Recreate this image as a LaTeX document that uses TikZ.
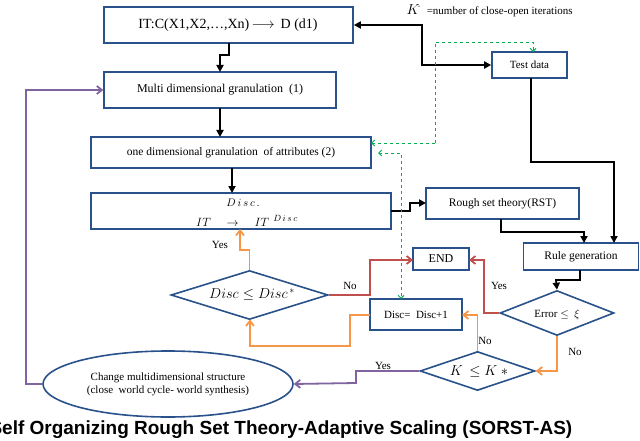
\documentclass[tikz,border=0pt]{standalone}
\usepackage{fontspec}
\setmainfont{Liberation Serif}
\newfontfamily\titlefont{Liberation Sans}
\usetikzlibrary{shapes.geometric,arrows.meta}
\definecolor{bblue}{RGB}{41,82,138}
\definecolor{orng}{RGB}{247,150,70}
\definecolor{rred}{RGB}{192,80,77}
\definecolor{purp}{RGB}{128,100,162}
\definecolor{grn}{RGB}{0,176,80}
\begin{document}
\begin{tikzpicture}[x=1pt,y=-1pt,
  box/.style={draw=bblue,line width=1.6pt,inner sep=0pt,fill=white},
  dia/.style={draw=bblue,line width=1.6pt,diamond,aspect=2.8,inner sep=0pt},
  blk/.style={line width=1.8pt,-{Triangle[length=7pt,width=7pt]}},
  org/.style={orng,line width=1.8pt,-{Straight Barb[length=5pt,width=8pt]}},
  red/.style={rred,line width=1.8pt,-{Straight Barb[length=5pt,width=8pt]}},
  pur/.style={purp,line width=1.8pt,-{Straight Barb[length=5pt,width=8pt]}},
  gd/.style={grn,line width=0.9pt,dashed,-{Straight Barb[length=3pt,width=6pt]}},
  lab/.style={font=\fontsize{11}{12}\selectfont}]
\useasboundingbox (0,0) rectangle (640,441);
% boxes
\node[box,minimum width=249pt,minimum height=36pt] (it) at (228.5,25) {};
\node[font=\fontsize{14}{15}\selectfont] (ittxt) at (228,25) {IT:C(X1,X2,\ldots,Xn)\,$\longrightarrow$\, D (d1)};
\node[box,minimum width=75pt,minimum height=26pt,font=\fontsize{11}{12}\selectfont] (test) at (529.5,65) {Test data};
\node[anchor=west,font=\fontsize{11}{12}\selectfont] (kdef) at (403,11) {{\fontsize{15}{15}\selectfont$K^{\!\cdot}$}\ \ =number of close-open iterations};
\node[box,minimum width=232pt,minimum height=36pt,font=\fontsize{12}{13}\selectfont] (multi) at (220,90) {Multi dimensional granulation\ \ (1)};
\node[box,minimum width=280pt,minimum height=31pt,font=\fontsize{11.5}{12}\selectfont] (one) at (231,152.5) {one dimensional granulation\ \ of attributes (2)};
\node[box,minimum width=300pt,minimum height=36pt] (disc) at (241,211) {};
\node[font=\fontsize{11}{12}\selectfont] (disct) at (243,203) {$D\,i\,s\,c\,.$};
\node[font=\fontsize{12.5}{13}\selectfont] (discb) at (247,221) {$IT\quad\rightarrow\quad IT^{\;\,D\,i\,s\,c}$};
\node[box,minimum width=153pt,minimum height=31pt,font=\fontsize{11.5}{12}\selectfont] (rst) at (502.5,203.5) {Rough set theory(RST)};
\node[box,minimum width=115pt,minimum height=27pt,font=\fontsize{11.5}{12}\selectfont] (rule) at (581,256.5) {Rule generation};
\node[box,minimum width=56pt,minimum height=22pt,font=\fontsize{12}{12}\selectfont] (end) at (441,259) {END};
\node[box,minimum width=92pt,minimum height=31pt,font=\fontsize{11}{12}\selectfont] (inc) at (416,314.5) {Disc=\ \ Disc+1};
\node[dia,minimum width=157pt,minimum height=49pt] (dd) at (249.5,295) {};
\node[font=\fontsize{14}{14}\selectfont] (ddt) at (252,295) {$Disc\le Disc^{\,*}$};
\node[dia,minimum width=114pt,minimum height=45pt] (err) at (557,313) {};
\node[font=\fontsize{11}{12}\selectfont] (errt) at (557,315) {Error $\le$\ \ $\xi$};
\node[dia,minimum width=115pt,minimum height=39pt] (kk) at (477.5,371) {};
\node[font=\fontsize{14}{15}\selectfont] (kkt) at (479,372) {$K\,\le K\ *$};
\node[draw=bblue,line width=1.6pt,ellipse,minimum width=250pt,minimum height=66pt,inner sep=0pt,align=center,font=\fontsize{11}{13}\selectfont] (ell) at (168,384) {Change multidimensional structure\\(close\ \ world cycle- world synthesis)};
\node[anchor=west,font=\titlefont\bfseries\fontsize{19}{20}\selectfont] (title) at (-14,430) {Self Organizing Rough Set Theory-Adaptive Scaling (SORST-AS)};
% black connectors
\draw[blk] (229,43) |- (220,55) -- (220,72);
\draw[blk] (220,108) -- (220,137);
\draw[blk] (232,168) -- (232,193);
\draw[line width=1.8pt,{Triangle[length=7pt,width=7pt]}-{Triangle[length=7pt,width=7pt]}] (it.east) -| (422,65) -- (test.west);
\draw[blk] (531,78) |- (614,162) -- (614,243);
\draw[blk] (391,211) -| (410,203) -- (426,203);
\draw[blk] (501,219) |- (584,232) -- (584,243);
\draw[blk] (580,270) |- (556,280) -- (err.north);
% green dashed
\draw[gd] (435,143) -- (371,143);
\draw[gd] (435,143) |- (533,42) -- (533,52);
\draw[grn,line width=0.9pt,dashed,{Straight Barb[length=3pt,width=6pt]}-{Straight Barb[length=3pt,width=6pt]}] (378,153) -| (401,299);
% red
\draw[red] (err.west) -| (484,260) -- (469,260);
\draw[red] (dd.east) -| (370,260) -- (413,260);
% orange
\draw[org] (dd.north) |- (240,250) -- (240,229);
\draw[org] (370,315) -| (350,346) -| (250,319.5);
\draw[org] (err.south) |- (kk.east);
\draw[org] (kk.north) |- (462,315);
% purple
\draw[pur] (kk.west) -| (356,383) -- (ell.east);
\draw[pur] (ell.west) -| (26,90) -- (multi.west);
% labels
\node[lab] (ly1) at (220,245) {Yes};
\node[lab] (ln1) at (350,286) {No};
\node[lab] (ly2) at (499,286) {Yes};
\node[lab] (ln2) at (575,352) {No};
\node[lab] (ln3) at (485,341) {No};
\node[lab] (ly3) at (383,366) {Yes};
\end{tikzpicture}
\end{document}
